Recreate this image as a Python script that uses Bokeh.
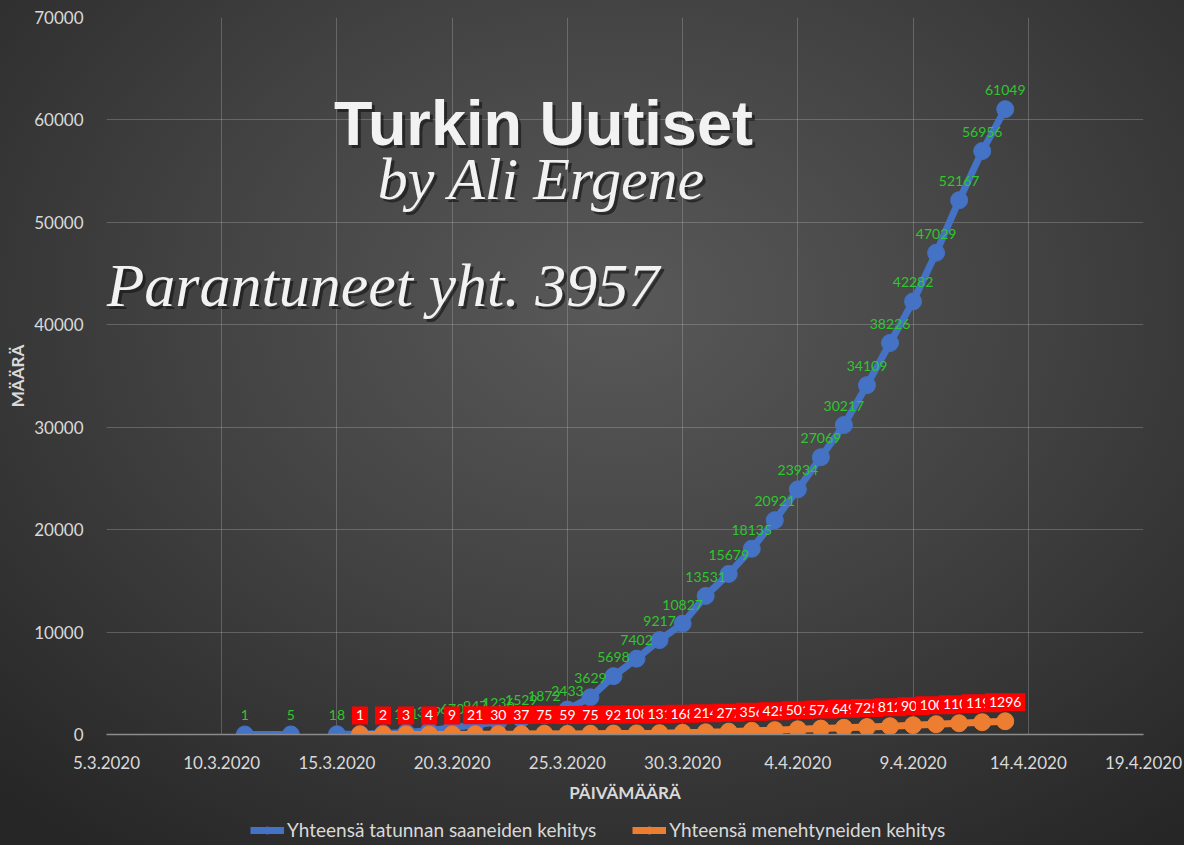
import numpy as np
import pandas as pd
from bokeh.plotting import figure
from bokeh.layouts import column
from bokeh.models import (ColumnDataSource, Label, Legend, LegendItem, Range1d,
                          FixedTicker, DatetimeTickFormatter, SingleIntervalTicker,
                          NumeralTickFormatter)
from bokeh.core.properties import value
from bokeh.embed import file_html
from bokeh.resources import INLINE

# ---------------- data ----------------
cases_dates = ["2020-03-11", "2020-03-13", "2020-03-14"] + \
    [d.strftime("%Y-%m-%d") for d in pd.date_range("2020-03-15", "2020-04-13")]
cases_values = [1, 5, np.nan,
                18, 47, 98, 191, 359, 670, 947, 1236, 1529, 1872,
                2433, 3629, 5698, 7402, 9217, 10827, 13531,
                15679, 18135, 20921, 23934, 27069, 30217, 34109, 38226,
                42282, 47029, 52167, 56956, 61049]

deaths_dates = [d.strftime("%Y-%m-%d") for d in pd.date_range("2020-03-16", "2020-04-13")]
deaths_values = [1, 2, 3, 4, 9, 21, 30, 37, 75, 59, 75, 92, 108, 131, 168, 214, 277,
                 356, 425, 501, 574, 649, 725, 812, 908, 1006, 1101, 1198, 1296]

x_start, x_end = "2020-03-05", "2020-04-19"
y_start, y_end, y_step = 0, 70000, 10000

series_names = ["Yhteensä tatunnan saaneiden kehitys", "Yhteensä menehtyneiden kehitys"]
x_title = "PÄIVÄMÄÄRÄ"
y_title = "MÄÄRÄ"
title_main = "Turkin Uutiset"
title_sub = "by Ali Ergene"
note_text = "Parantuneet yht. 3957"

# ---------------- styles ----------------
BLUE = "#4472C4"
ORANGE = "#ED7D31"
GREEN = "#2fc62f"
TXT = "#d9d9d9"
FONT = "Lato"
W, H_MAIN, H_LEG = 1184, 805, 40

cases_df = pd.DataFrame({"x": pd.to_datetime(cases_dates), "y": cases_values})
deaths_df = pd.DataFrame({"x": pd.to_datetime(deaths_dates), "y": deaths_values})

cases_src = ColumnDataSource(cases_df)
cases_pts = cases_df.dropna().copy()
cases_pts["label"] = cases_pts["y"].astype(int).astype(str)
cases_lbl_src = ColumnDataSource(cases_pts)
deaths_lbl = deaths_df.copy()
deaths_lbl["label"] = deaths_lbl["y"].astype(str)
deaths_src = ColumnDataSource(deaths_lbl)

p = figure(width=W, height=H_MAIN, x_axis_type="datetime",
           x_range=Range1d(pd.Timestamp(x_start), pd.Timestamp(x_end)),
           y_range=Range1d(y_start, y_end),
           output_backend="svg", toolbar_location=None,
           min_border_left=106, min_border_right=41, min_border_top=17, min_border_bottom=68)
p.border_fill_color = None
p.background_fill_color = None
p.outline_line_color = None

# axes
ticks = [int(t.value // 10**6) for t in pd.date_range(x_start, x_end, freq="5D")]
p.xaxis.ticker = FixedTicker(ticks=ticks)
fmt = "%-d.%-m.%Y"
p.xaxis.formatter = DatetimeTickFormatter(days=fmt, months=fmt, years=fmt, hours=fmt,
                                          hourmin=fmt, minutes=fmt, minsec=fmt,
                                          seconds=fmt, milliseconds=fmt, microseconds=fmt)
p.yaxis.ticker = SingleIntervalTicker(interval=y_step)
p.yaxis.formatter = NumeralTickFormatter(format="0")

for ax in (p.xaxis[0], p.yaxis[0]):
    ax.major_tick_line_color = None
    ax.minor_tick_line_color = None
    ax.major_label_text_color = TXT
    ax.major_label_text_font = FONT
    ax.major_label_text_font_size = "17px"
    ax.axis_label_text_color = TXT
    ax.axis_label_text_font = FONT
    ax.axis_label_text_font_style = "bold"
    ax.axis_label_text_font_size = "17px"

p.xaxis.axis_line_color = "#8c8c8c"
p.xaxis.axis_line_width = 1.5
p.yaxis.axis_line_color = None
p.xaxis.major_label_standoff = 15
p.yaxis.major_label_standoff = 17
p.xaxis.axis_label = x_title
p.yaxis.axis_label = y_title
p.xaxis.axis_label_standoff = 10
p.yaxis.axis_label_standoff = 3

p.xgrid.grid_line_color = "#bfbfbf"
p.xgrid.grid_line_alpha = 0.3
p.ygrid.grid_line_color = "#bfbfbf"
p.ygrid.grid_line_alpha = 0.3

# series
line_kw = [dict(line_color=BLUE, line_width=7), dict(line_color=ORANGE, line_width=7)]
dot_kw = [dict(marker="circle", size=17, fill_color=BLUE, line_color=BLUE),
          dict(marker="circle", size=17, fill_color=ORANGE, line_color=ORANGE)]
p.line("x", "y", source=cases_src, **line_kw[0])
p.scatter("x", "y", source=cases_src, **dot_kw[0])
p.line("x", "y", source=deaths_src, **line_kw[1])
p.scatter("x", "y", source=deaths_src, **dot_kw[1])

# data labels (drawn in order: green first, red boxes above)
p.text(x="x", y="y", text="label", source=cases_lbl_src,
       y_offset=-19, text_align="center", text_baseline="middle",
       text_color=GREEN, text_font=value(FONT), text_font_size="14px")
p.text(x="x", y="y", text="label", source=deaths_src,
       y_offset=-19, text_align="center", text_baseline="middle",
       text_color="white", text_font=value(FONT), text_font_size="14px",
       background_fill_color="#ff0000", padding=4)

# decorative titles (screen units, relative to frame)
def deco(text, x, y, font, size, style, align="center"):
    p.add_layout(Label(x=x + 3, y=y - 3, x_units="screen", y_units="screen", text=text,
                       text_font=font, text_font_size=size, text_font_style=style,
                       text_color="#111111", text_alpha=0.6, text_align=align,
                       text_baseline="middle"))
    p.add_layout(Label(x=x, y=y, x_units="screen", y_units="screen", text=text,
                       text_font=font, text_font_size=size, text_font_style=style,
                       text_color="#f2f2f2", text_align=align, text_baseline="middle"))

deco(title_main, 437, 612, "Liberation Sans", "63px", "bold")
deco(title_sub, 435, 556, "Liberation Serif", "60px", "italic")
deco(note_text, 0, 450, "Liberation Serif", "62px", "italic", align="left")

# ---------------- legend strip (separate small figure below) ----------------
lg = figure(width=W, height=H_LEG, x_range=Range1d(0, 1), y_range=Range1d(0, 1),
            output_backend="svg", toolbar_location=None,
            min_border=0, min_border_left=0, min_border_right=0,
            min_border_top=0, min_border_bottom=0)
lg.axis.visible = False
lg.grid.visible = False
lg.border_fill_color = None
lg.background_fill_color = None
lg.outline_line_color = None
items = []
for name, lk, dk in zip(series_names, line_kw, dot_kw):
    offscreen = ColumnDataSource(dict(x=[-10], y=[-10]))
    r1 = lg.line("x", "y", source=offscreen, **lk)
    r2 = lg.scatter("x", "y", source=offscreen, **dk)
    items.append(LegendItem(label=name, renderers=[r1, r2]))
legend = Legend(items=items, location=(144, 4), orientation="horizontal",
                background_fill_alpha=0, border_line_color=None,
                label_text_color=TXT, label_text_font=FONT, label_text_font_size="19px",
                glyph_width=34, glyph_height=18, label_standoff=3, spacing=36,
                padding=0, margin=0)
lg.add_layout(legend, "center")

layout = column(p, lg, spacing=0)
layout.styles = {"background": "radial-gradient(ellipse 75% 80% at 52% 36%, #595959 0%, #424242 48%, #262626 100%)"}

open("out.html", "w").write(file_html(layout, INLINE))
